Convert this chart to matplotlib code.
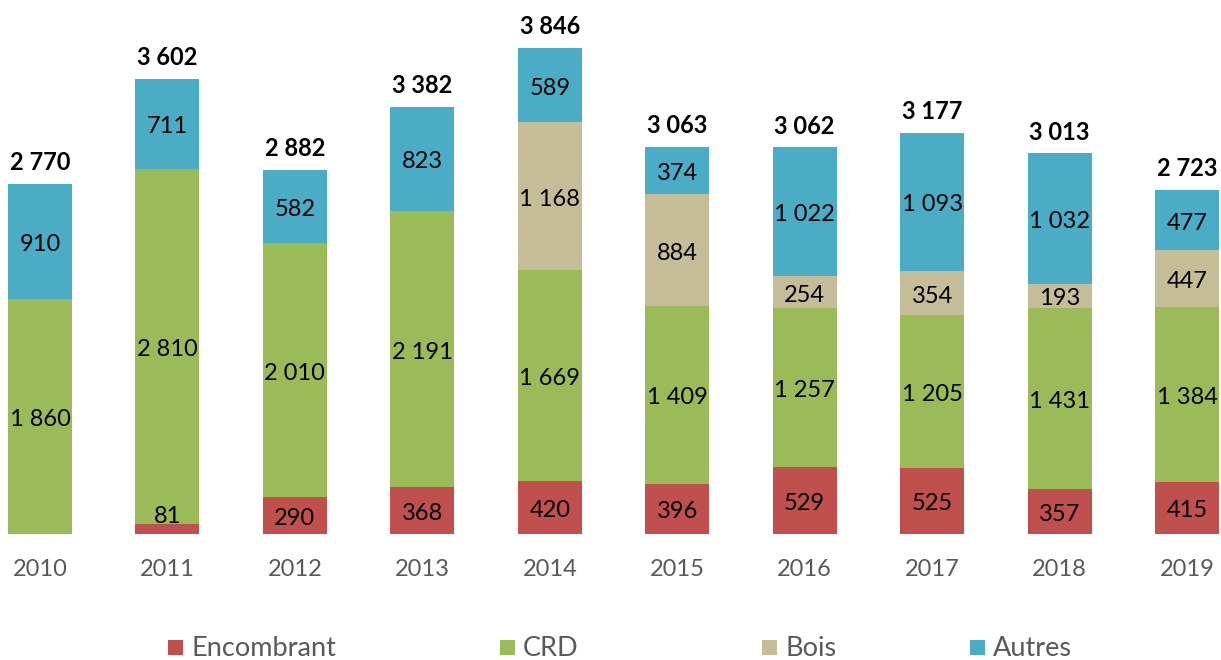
import matplotlib
matplotlib.use("Agg")
import matplotlib.pyplot as plt
from matplotlib.patches import Rectangle

years = ["2010", "2011", "2012", "2013", "2014", "2015", "2016", "2017", "2018", "2019"]
encombrant = [0, 81, 290, 368, 420, 396, 529, 525, 357, 415]
crd = [1860, 2810, 2010, 2191, 1669, 1409, 1257, 1205, 1431, 1384]
bois = [0, 0, 0, 0, 1168, 884, 254, 354, 193, 447]
autres = [910, 711, 582, 823, 589, 374, 1022, 1093, 1032, 477]
series_names = ["Encombrant", "CRD", "Bois", "Autres"]
colors = ["#C0504D", "#9BBB59", "#C4BD97", "#4BACC6"]

plt.rcParams['font.family'] = ['Lato', 'DejaVu Sans']

W, H = 1221, 660
fig = plt.figure(figsize=(W / 100, H / 100), dpi=100)
base_px = 534
scale = 486 / 3846  # px per unit
ax = fig.add_axes([0, (H - base_px) / H, 1, base_px / H])
ax.set_ylim(0, base_px / scale)
spacing = 127.44
ax.set_xlim(-40 / spacing, (W - 40) / spacing)
ax.axis('off')

def fmt(v):
    return f"{v:,}".replace(",", " ")

dy = 3 / scale  # small downward shift for text centering

x = list(range(len(years)))
bottoms = [0] * len(years)
data = [encombrant, crd, bois, autres]
for vals, name, col in zip(data, series_names, colors):
    ax.bar(x, vals, width=0.502, bottom=bottoms, color=col, label=name, linewidth=0)
    for i, v in enumerate(vals):
        if v <= 0:
            continue
        yc = bottoms[i] + v / 2
        if v < 150:
            yc = bottoms[i] + v + 85
        ax.text(i, yc - dy, fmt(v), ha='center', va='center', fontsize=17, color='black')
    bottoms = [b + v for b, v in zip(bottoms, vals)]

for i, t in enumerate(bottoms):
    ax.text(i, t + 23 / scale - 2 / scale, fmt(t), ha='center', va='center', fontsize=17,
            fontweight='bold', color='black')

for i, y in enumerate(years):
    ax.text(i, -36 / scale, y, ha='center', va='center', fontsize=17,
            color='#595959', clip_on=False)

# legend
leg_sq = [168, 500, 762, 970]
for sx, name, col in zip(leg_sq, series_names, colors):
    fig.add_artist(Rectangle((sx / W, (H - 655) / H), 15 / W, 15 / H,
                             transform=fig.transFigure, color=col, linewidth=0))
    fig.text((sx + 23) / W, (H - 649) / H, name, ha='left', va='center',
             fontsize=19.5, color='#595959')

fig.savefig("out.png", dpi=100)
